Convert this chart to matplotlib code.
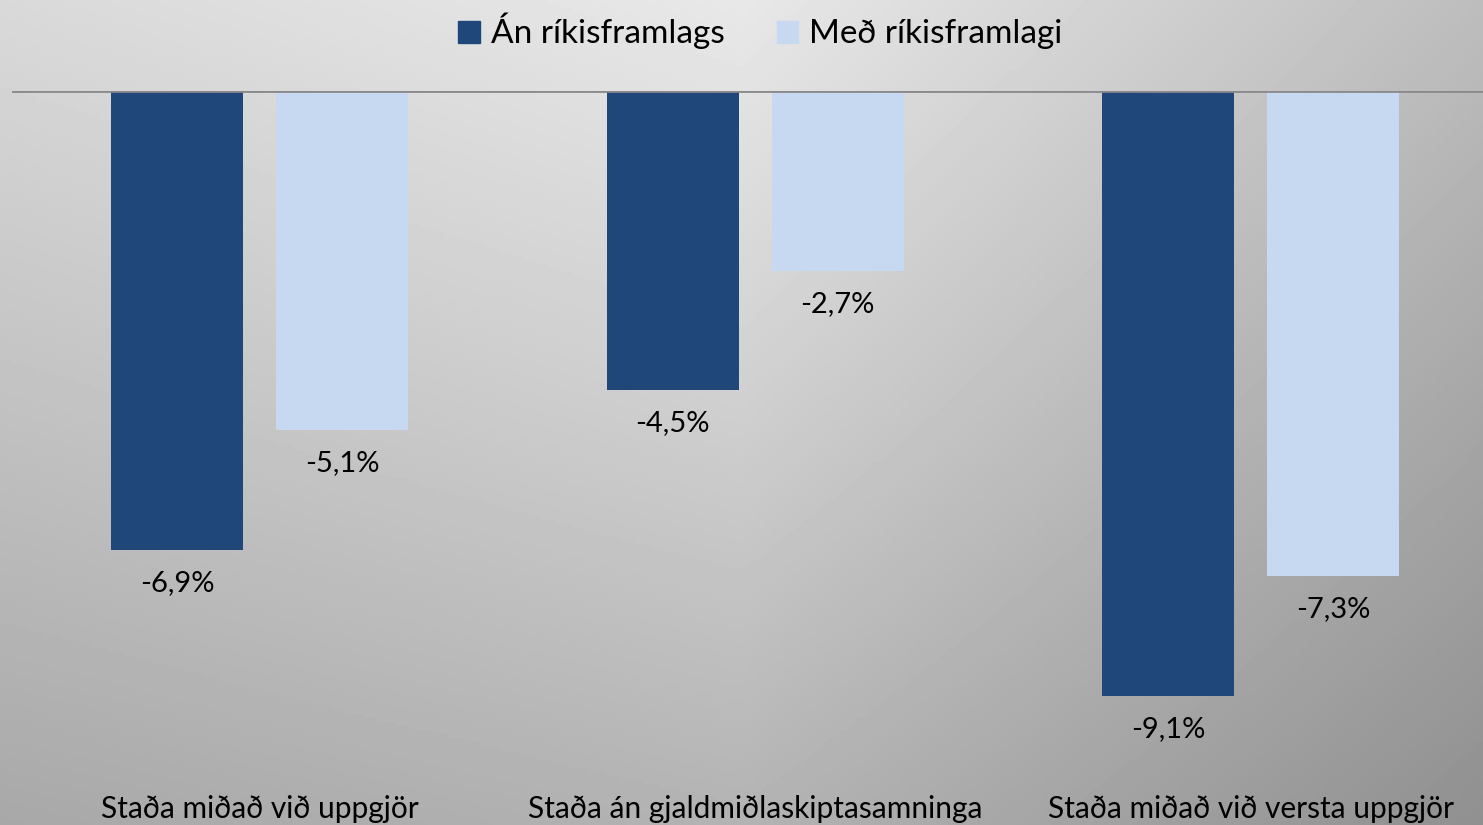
import numpy as np
import matplotlib.pyplot as plt
from matplotlib.patches import Patch

categories = ["Staða miðað við uppgjör", "Staða án gjaldmiðlaskiptasamninga", "Staða miðað við versta uppgjör"]
series_names = ["Án ríkisframlags", "Með ríkisframlagi"]
an_rikisframlags = [-6.9, -4.5, -9.1]
med_rikisframlagi = [-5.1, -2.7, -7.3]

dark_blue = "#1f477a"
light_blue = "#c6d9f1"

plt.rcParams["font.family"] = ["Lato", "DejaVu Sans"]

W, H = 1483, 825
fig = plt.figure(figsize=(W / 100, H / 100), dpi=100)

# Background gradient (light at top centre, darker towards bottom right)
bg_ax = fig.add_axes([0, 0, 1, 1], zorder=-10)
grid = np.array([[217, 232, 189],
                 [193, 207, 166],
                 [168, 179, 144]], dtype=float) / 255
yy, xx = np.mgrid[0:1:200j, 0:1:360j]
gx = xx * 2
gy = yy * 2
ix = np.clip(gx.astype(int), 0, 1)
iy = np.clip(gy.astype(int), 0, 1)
fx = gx - ix
fy = gy - iy
img = (grid[iy, ix] * (1 - fx) * (1 - fy) + grid[iy, ix + 1] * fx * (1 - fy)
       + grid[iy + 1, ix] * (1 - fx) * fy + grid[iy + 1, ix + 1] * fx * fy)
bg_ax.imshow(img, cmap="gray", vmin=0, vmax=1, aspect="auto", extent=[0, 1, 1, 0])
bg_ax.axis("off")

# Main axes
ax = fig.add_axes([12 / W, 1 - 780 / H, 1486.5 / W, (780 - 91) / H])
ax.patch.set_alpha(0)

x = np.arange(len(categories))
width = 0.2664
offset = 0.1665
bars1 = ax.bar(x - offset, an_rikisframlags, width, color=dark_blue, label=series_names[0])
bars2 = ax.bar(x + offset, med_rikisframlagi, width, color=light_blue, label=series_names[1])

for bars, vals in [(bars1, an_rikisframlags), (bars2, med_rikisframlagi)]:
    for b, v in zip(bars, vals):
        ax.annotate(f"{v:.1f}%".replace(".", ","), (b.get_x() + b.get_width() / 2, v),
                    xytext=(0, -33), textcoords="offset pixels",
                    ha="center", va="center", fontsize=21, color="black")

ax.axhline(0, color="#8a8a8a", lw=2, zorder=3)
ax.set_xlim(-0.5, 2.5)
ax.set_ylim(-(780 - 91) / 66.5, 0)
ax.set_yticks([])
ax.set_xticks(x)
ax.set_xticklabels(categories, fontsize=21.5)
ax.tick_params(axis="x", length=0, pad=11)
for s in ax.spines.values():
    s.set_visible(False)

handles = [Patch(color=dark_blue), Patch(color=light_blue)]
fig.legend(handles, series_names, loc="center", bbox_to_anchor=(760.5 / W, 1 - 31 / H),
           ncol=2, frameon=False, fontsize=24, handlelength=0.64, handleheight=0.64,
           handletextpad=0.33, columnspacing=1.58)

fig.savefig("out.png", dpi=100)
